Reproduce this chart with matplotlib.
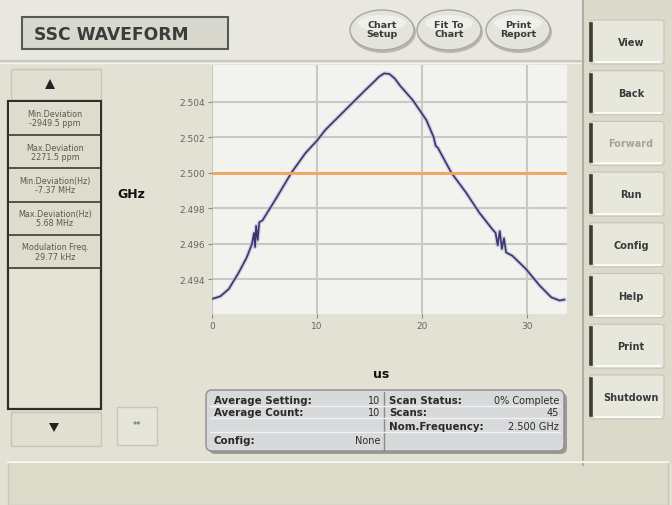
import matplotlib
matplotlib.use("Agg")
import matplotlib.pyplot as plt
from matplotlib.patches import Rectangle, Ellipse, FancyBboxPatch, Polygon

# ---- chart data ----
time_us = [0.0, 0.8, 1.6, 2.55, 3.3, 3.8, 4.0, 4.1, 4.2, 4.35, 4.5, 4.8,
           6.05, 7.55, 8.9, 10.0, 10.8, 12.7, 14.6, 15.4, 15.9, 16.4, 16.9,
           17.4, 17.9, 19.1, 20.4, 21.1, 21.3, 21.5, 22.8, 24.2, 25.45, 26.7,
           27.0, 27.2, 27.4, 27.6, 27.8, 28.0, 28.6, 29.9, 31.2, 32.3, 33.1,
           33.55]
freq_ghz = [2.49288, 2.49303, 2.49344, 2.49437, 2.49521, 2.49596, 2.49660,
            2.49580, 2.49700, 2.49620, 2.49720, 2.49730, 2.49849, 2.49998,
            2.50110, 2.50180, 2.50241, 2.50353, 2.50465, 2.50510, 2.50540,
            2.50559, 2.50555, 2.50530, 2.50490, 2.50409, 2.50297, 2.50200,
            2.50150, 2.50140, 2.49998, 2.49886, 2.49774, 2.49680, 2.49660,
            2.49590, 2.49670, 2.49570, 2.49630, 2.49550, 2.49531, 2.49456,
            2.49363, 2.49297, 2.49279, 2.49284]
nominal_ghz = 2.500

y_ticks = [2.494, 2.496, 2.498, 2.500, 2.502, 2.504]
y_tick_labels = ["2.494", "2.496", "2.498", "2.500", "2.502", "2.504"]
x_ticks = [0, 10, 20, 30]
x_tick_labels = ["0", "10", "20", "30"]

# ---- UI texts ----
title = "SSC WAVEFORM"
round_buttons = ["Chart\nSetup", "Fit To\nChart", "Print\nReport"]
side_buttons = ["View", "Back", "Forward", "Run", "Config", "Help", "Print", "Shutdown"]
stats = ["Min.Deviation\n-2949.5 ppm", "Max.Deviation\n2271.5 ppm",
         "Min.Deviation(Hz)\n-7.37 MHz", "Max.Deviation(Hz)\n5.68 MHz",
         "Modulation Freq.\n29.77 kHz"]
info_left = [("Average Setting:", "10"), ("Average Count:", "10"), ("", ""), ("Config:", "None")]
info_right = [("Scan Status:", "0% Complete"), ("Scans:", "45"),
              ("Nom.Frequency:", "2.500 GHz"), ("", "")]

W, H = 672, 506
fig = plt.figure(figsize=(W / 100, H / 100), dpi=100)
fig.patch.set_facecolor("#e3e1d4")

# background layer in pixel coordinates
bg = fig.add_axes([0, 0, 1, 1])
bg.set_xlim(0, W)
bg.set_ylim(H, 0)
bg.axis("off")

def rect(x0, y0, x1, y1, fc, ec="none", lw=1, z=1):
    bg.add_patch(Rectangle((x0, y0), x1 - x0, y1 - y0, fc=fc, ec=ec, lw=lw, zorder=z))

def rbox(x0, y0, x1, y1, fc, ec="none", lw=1, r=4, z=1):
    bg.add_patch(FancyBboxPatch((x0, y0), x1 - x0, y1 - y0,
                                boxstyle=f"round,pad=0,rounding_size={r}",
                                fc=fc, ec=ec, lw=lw, zorder=z))

# top bar
rect(0, 0, 583, 62, "#e9e8e0")
bg.plot([0, 583], [62, 62], color="#c9c8bb", lw=1.5)
bg.plot([0, 583], [64, 64], color="#f4f4ee", lw=1)

# title box
rect(22, 18, 228, 50, "#d8d8cf", ec="#5a5a55", lw=1.5, z=2)
bg.text(34, 35, title, fontsize=12.3, fontweight="bold", color="#3c3c3a",
        va="center", ha="left", zorder=3)

# round buttons
for label, cx in zip(round_buttons, [382, 449, 518]):
    bg.add_patch(Ellipse((cx + 1, 33), 66, 42, fc="#b9b8ae", ec="none", zorder=2))
    bg.add_patch(Ellipse((cx, 31), 64, 40, fc="#e4e4dc", ec="#a9a89e", lw=1, zorder=3))
    bg.add_patch(Ellipse((cx, 24), 48, 16, fc="#f0f0ea", ec="none", zorder=3))
    bg.text(cx, 30, label, fontsize=6.8, fontweight="bold", color="#3a3a3a",
            ha="center", va="center", linespacing=0.9, zorder=4)

# right-hand column
rect(583, 0, W, 466, "#dcdacb")
bg.plot([583, 583], [0, 466], color="#b0afa2", lw=1.5)
for i, label in enumerate(side_buttons):
    cy = 43 + i * 50.7
    rbox(590, cy - 22, 664, cy + 22, "#e8e7dc", ec="#c4c3b6", lw=0.8, r=3, z=2)
    bg.plot([591, 591], [cy - 18, cy + 18], color="#3c3c34", lw=2.6, zorder=3)
    bg.plot([596, 660], [cy + 20, cy + 20], color="#fbfbf6", lw=1.5, zorder=3)
    col = "#a5a49a" if label == "Forward" else "#3a3a3a"
    bg.text(631, cy, label, fontsize=7, fontweight="bold", color=col,
            ha="center", va="center", zorder=4)

# left panel: up / down buttons
rect(11, 70, 101, 101, "#e0dfd1", ec="#c6c5b6", lw=1)
bg.add_patch(Polygon([[50, 80], [45, 90], [55, 90]], closed=True, fc="#222", zorder=3))
rect(11, 413, 101, 447, "#e0dfd1", ec="#c6c5b6", lw=1)
bg.add_patch(Polygon([[54, 433], [49, 424], [59, 424]], closed=True, fc="#222", zorder=3))
rect(117, 408, 157, 446, "#e6e5da", ec="#c6c5b6", lw=1)
bg.text(137, 426, "**", fontsize=6, color="#555", ha="center", va="center")

# left panel: statistics list
rect(8, 102, 101, 410, "#e4e3d6", ec="#2e2e2a", lw=1.6, z=2)
row_edges = [102, 136, 169, 203, 236, 269]
for k, s in enumerate(stats):
    y0, y1 = row_edges[k], row_edges[k + 1]
    rect(9, y0 + 1, 100, y1 - 1, "#dedccc", z=2)
    bg.plot([8, 101], [y1, y1], color="#3a3a34", lw=1.2, zorder=3)
    bg.text(55, (y0 + y1) / 2, s, fontsize=5.8, color="#5a5a52",
            ha="center", va="center", linespacing=1.0, zorder=4)

# axis unit labels
bg.text(131, 195, "GHz", fontsize=9, fontweight="bold", color="#111",
        ha="center", va="center")
bg.text(381, 375, "us", fontsize=9, fontweight="bold", color="#111",
        ha="center", va="center")

# bottom info panel
rbox(209, 394, 567, 455, "#9a9a98", r=6, z=1)
rbox(206, 391, 564, 452, "#d7d9db", ec="#8c8c8a", lw=1, r=6, z=2)
bg.plot([384, 384], [393, 451], color="#8a8a88", lw=1, zorder=3)
for yl in [407, 419, 433]:
    bg.plot([210, 560], [yl, yl], color="#f1f2f3", lw=1, zorder=3)
rows_y = [401, 413, 427, 441]
for yy, (lab, val) in zip(rows_y, info_left):
    bg.text(214, yy, lab, fontsize=7.4, fontweight="bold", color="#2a2a2a",
            ha="left", va="center", zorder=4)
    bg.text(380, yy, val, fontsize=7, color="#2a2a2a", ha="right", va="center", zorder=4)
for yy, (lab, val) in zip(rows_y, info_right):
    bg.text(389, yy, lab, fontsize=7.4, fontweight="bold", color="#2a2a2a",
            ha="left", va="center", zorder=4)
    bg.text(559, yy, val, fontsize=7, color="#2a2a2a", ha="right", va="center", zorder=4)

# bottom status bar
rect(0, 466, W, H, "#e3e1d4")
rect(8, 462, 668, 506, "#dddccb", ec="#c8c7b8", lw=1)
bg.plot([8, 668], [463, 463], color="#f6f6f0", lw=1.5)

# ---- waveform chart ----
ax = fig.add_axes([212 / W, 1 - 315 / H, 355 / W, 249 / H])
ax.set_facecolor("#f2f2ef")
ax.set_xlim(0, 33.8)
ax.set_ylim(2.49203, 2.50606)
ax.set_yticks(y_ticks)
ax.set_yticklabels(y_tick_labels)
ax.set_xticks(x_ticks)
ax.set_xticklabels(x_tick_labels)
ax.grid(True, color="#c8c8c4", lw=1.5)
ax.set_axisbelow(True)
for sp in ax.spines.values():
    sp.set_visible(False)
ax.tick_params(axis="both", labelsize=6.5, labelcolor="#666", color="#888",
               length=3, width=0.8, pad=2)

ax.plot(time_us, freq_ghz, color="#b7b3da", lw=3.0, alpha=0.6)
ax.plot(time_us, freq_ghz, color="#38366a", lw=1.2)
ax.axhline(nominal_ghz, color="#f2a45e", lw=2)

fig.savefig("out.png", dpi=100, facecolor=fig.get_facecolor())
